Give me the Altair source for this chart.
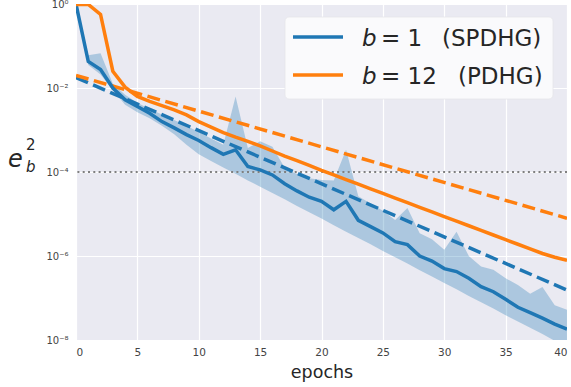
import altair as alt
import pandas as pd

# ---- data (log10 of e_b^2) ----
epochs = list(range(41))
spdhg_mean_log = [0, -1.37, -1.56, -2.0, -2.28, -2.44, -2.6, -2.8, -2.95, -3.11, -3.25,
                  -3.42, -3.58, -3.47, -3.87, -3.95, -4.07, -4.28, -4.45, -4.6, -4.7,
                  -4.9, -4.7, -5.15, -5.3, -5.45, -5.66, -5.73, -6.0, -6.12, -6.3,
                  -6.37, -6.53, -6.73, -6.85, -7.03, -7.22, -7.35, -7.48, -7.62, -7.74]
spdhg_upper_log = [0, -1.22, -1.17, -1.9, -2.16, -2.35, -2.5, -2.63, -2.76, -2.9, -3.05,
                   -3.2, -3.35, -2.2, -3.43, -3.27, -3.4, -3.9, -4.05, -4.15, -4.19,
                   -4.2, -3.47, -4.58, -4.75, -4.92, -5.14, -4.86, -5.46, -5.6, -5.85,
                   -5.42, -6.0, -6.25, -6.33, -6.53, -6.69, -6.9, -6.74, -7.17, -7.28]
spdhg_lower_log = [0, -1.45, -1.68, -2.05, -2.4, -2.58, -2.72, -2.9, -3.1, -3.35, -3.58,
                   -3.74, -3.89, -4.04, -4.2, -4.35, -4.5, -4.65, -4.81, -4.96, -5.11,
                   -5.27, -5.42, -5.57, -5.72, -5.88, -6.03, -6.18, -6.34, -6.49, -6.64,
                   -6.79, -6.95, -7.1, -7.25, -7.41, -7.56, -7.71, -7.86, -8.02, -8.17]
pdhg_log = [-0.01, -0.01, -0.25, -1.6, -1.98, -2.2, -2.32, -2.42, -2.52, -2.64, -2.8,
            -2.93, -3.06, -3.17, -3.27, -3.38, -3.5, -3.62, -3.73, -3.84, -3.96,
            -4.07, -4.18, -4.29, -4.4, -4.51, -4.62, -4.73, -4.84, -4.95, -5.06,
            -5.17, -5.28, -5.39, -5.5, -5.61, -5.72, -5.83, -5.94, -6.03, -6.1]
rate_epochs = [0, 40]
spdhg_rate_log = [-1.75, -6.81]
pdhg_rate_log = [-1.7, -5.1]
threshold = [1e-4]

y_ticks = [1, 1e-2, 1e-4, 1e-6, 1e-8]
x_ticks = [0, 5, 10, 15, 20, 25, 30, 35, 40]

legend_labels = ["= 1", "= 12"]
legend_methods = ["(SPDHG)", "(PDHG)"]

BLUE = "#1f77b4"
ORANGE = "#ff7f0e"

main = pd.DataFrame({
    "epoch": epochs,
    "mean": [10 ** v for v in spdhg_mean_log],
    "upper": [10 ** v for v in spdhg_upper_log],
    "lower": [10 ** v for v in spdhg_lower_log],
    "pdhg": [10 ** v for v in pdhg_log],
})
rates = pd.DataFrame({
    "epoch": rate_epochs,
    "spdhg": [10 ** v for v in spdhg_rate_log],
    "pdhg": [10 ** v for v in pdhg_rate_log],
})

xs = alt.Scale(domain=[0, 40], nice=False, zero=False)
ys = alt.Scale(type="log", domain=[1e-8, 1], nice=False)

label_expr = ("datum.value >= 1 ? '10⁰' : '10⁻' + "
              "['⁰','¹','²','³','⁴','⁵','⁶','⁷','⁸','⁹'][round(-log(datum.value)/LN10)]")

X = alt.X("epoch:Q", scale=xs,
          axis=alt.Axis(values=x_ticks, title="epochs", labelFontSize=10.5,
                        labelPadding=7, titleFontSize=17.5, titlePadding=6,
                        titleFont="DejaVu Sans", titleFontWeight="normal",
                        titleColor="#262626", labelColor="#444444"))

band = alt.Chart(main).mark_area(color=BLUE, opacity=0.3, clip=True).encode(
    x=X,
    y=alt.Y("lower:Q", scale=ys,
            axis=alt.Axis(values=y_ticks, labelExpr=label_expr, title=None,
                          labelFontSize=10, labelPadding=8, labelColor="#444444")),
    y2="upper:Q",
)
blue_line = alt.Chart(main).mark_line(color=BLUE, strokeWidth=3.5, clip=True).encode(
    x="epoch:Q", y=alt.Y("mean:Q", scale=ys))
orange_line = alt.Chart(main).mark_line(color=ORANGE, strokeWidth=3.5, clip=True).encode(
    x="epoch:Q", y=alt.Y("pdhg:Q", scale=ys))
blue_rate = alt.Chart(rates).mark_line(color=BLUE, strokeWidth=3.5,
                                       strokeDash=[13, 5.6], clip=True).encode(
    x="epoch:Q", y=alt.Y("spdhg:Q", scale=ys))
orange_rate = alt.Chart(rates).mark_line(color=ORANGE, strokeWidth=3.5,
                                         strokeDash=[13, 5.6], clip=True).encode(
    x="epoch:Q", y=alt.Y("pdhg:Q", scale=ys))
hline = alt.Chart(pd.DataFrame({"v": threshold})).mark_rule(
    color="#808080", strokeWidth=2, strokeDash=[2, 3.3]).encode(y=alt.Y("v:Q", scale=ys))

# ---- legend (drawn by hand, positions in plot-area pixels) ----
one = pd.DataFrame({"k": [0]})
leg_box = alt.Chart(one).mark_rect(fill="#fafafc", cornerRadius=4, stroke="#e6e6ea",
                                   strokeWidth=0.8).encode(
    x=alt.value(209), x2=alt.value(477), y=alt.value(13), y2=alt.value(95))
leg_blue = alt.Chart(one).mark_rule(color=BLUE, strokeWidth=3.5).encode(
    x=alt.value(217), x2=alt.value(267), y=alt.value(33))
leg_orange = alt.Chart(one).mark_rule(color=ORANGE, strokeWidth=3.5).encode(
    x=alt.value(217), x2=alt.value(267), y=alt.value(71))

def txt(s, x, y, size, style="normal", align="left", color="#262626"):
    return alt.Chart(pd.DataFrame({"t": [s]})).mark_text(
        font="DejaVu Sans", fontSize=size, fontStyle=style, align=align,
        baseline="alphabetic", color=color).encode(
        text="t:N", x=alt.value(x), y=alt.value(y))

leg_texts = [
    txt("b", 286, 42, 23, "italic"), txt(legend_labels[0], 305, 42, 23),
    txt(legend_methods[0], 366, 42, 23),
    txt("b", 286, 80, 23, "italic"), txt(legend_labels[1], 305, 80, 23),
    txt(legend_methods[1], 382, 80, 23),
]

# ---- y-axis title e_b^2 ----
ytitle = [
    txt("e", -68, 163, 24, "italic"),
    txt("2", -50, 146, 15),
    txt("b", -50, 168, 15, "italic"),
]

chart = alt.layer(band, hline, blue_rate, orange_rate, blue_line, orange_line,
                  leg_box, leg_blue, leg_orange, *leg_texts, *ytitle).properties(
    width=491, height=336,
    autosize=alt.AutoSizeParams(type="none"),
    padding={"left": 76, "top": 4, "right": 4, "bottom": 47},
    background="white",
).configure_view(fill="#eaeaf2", stroke=None).configure_axis(
    grid=True, gridColor="white", gridWidth=1.2, domain=False, ticks=False,
    labelFont="DejaVu Sans", titleFont="DejaVu Sans",
)

chart.save("out.html", embed_options={"renderer": "svg", "actions": False})
